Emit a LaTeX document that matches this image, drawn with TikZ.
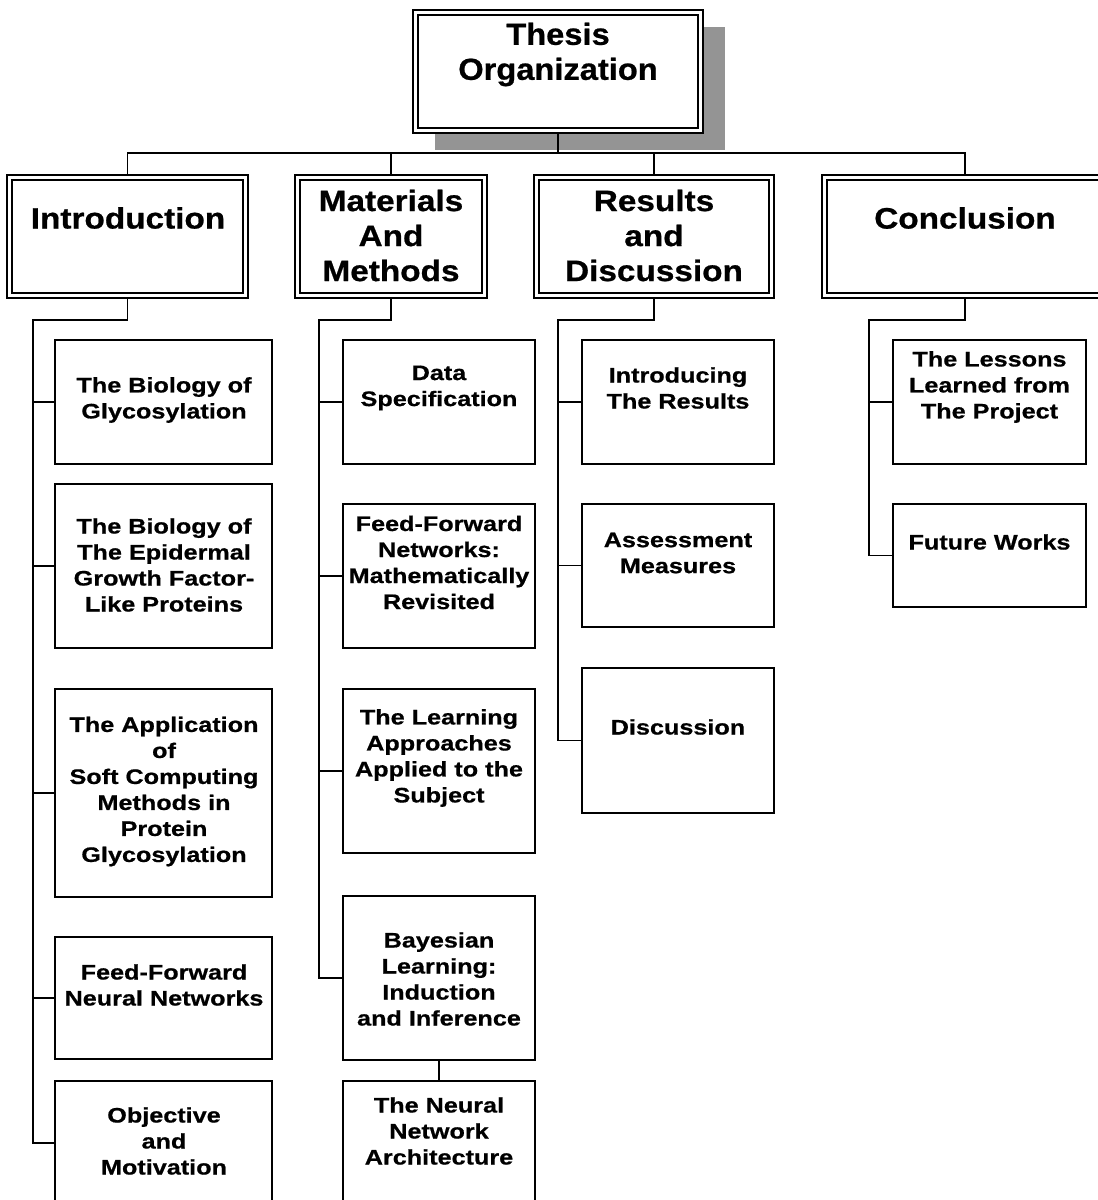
\documentclass[tikz,border=0pt]{standalone}
\usepackage{fontspec}
\setmainfont{Liberation Sans}
% slightly widened, heavy Arial-like faces for the chart labels
\newfontfamily\childfont{Liberation Sans}[FakeStretch=1.2, BoldFeatures={FakeBold=0.7}]
\newfontfamily\headfont{Liberation Sans}[FakeStretch=1.13, BoldFeatures={FakeBold=0.7}]
\newfontfamily\titlefont{Liberation Sans}[FakeStretch=1.07, BoldFeatures={FakeBold=0.7}]

\tikzset{
  subbox/.style={draw=black, fill=white, line width=1.8pt, inner sep=0pt, outer sep=0pt},
  headbox/.style={draw=black, fill=white, line width=2.2pt, inner sep=0pt, outer sep=0pt,
                  minimum height=123pt},
  inner frame/.style={draw=black, line width=1.3pt},
  conn/.style={draw=black, line width=1.4pt},
  ctext/.style={inner sep=0pt, align=center, font=\childfont\bfseries\fontsize{21}{26}\selectfont},
  htext/.style={inner sep=0pt, align=center, font=\headfont\bfseries\fontsize{29.5}{35}\selectfont},
  ttext/.style={inner sep=0pt, align=center, font=\titlefont\bfseries\fontsize{30.5}{35}\selectfont},
  colI/.style={subbox, minimum width=217pt},
  colM/.style={subbox, minimum width=192pt},
  colR/.style={subbox, minimum width=192pt},
  colC/.style={subbox, minimum width=193pt},
}

\begin{document}
\begin{tikzpicture}[x=1pt, y=-1pt]
\useasboundingbox (0,0) rectangle (1098,1200);
\clip (0,0) rectangle (1098,1200);

% ---------- root with drop shadow ----------
\fill[black!42] (435,27) rectangle (725,150);
\node[headbox, minimum width=290pt] (T) at (558,71.5) {};
\draw[inner frame] ([shift={(5,5)}]T.north west) rectangle ([shift={(-5,-5)}]T.south east);
\node[ttext] (Tt) at (558,54.5) {Thesis\\Organization};

% ---------- chapter headers ----------
\node[headbox, minimum width=241pt] (H1) at (127.5,236.5) {};
\node[headbox, minimum width=192pt] (H2) at (391,236.5) {};
\node[headbox, minimum width=240pt] (H3) at (654,236.5) {};
\node[headbox, minimum width=286pt] (H4) at (965,236.5) {};
\foreach \h in {H1,H2,H3,H4}
  \draw[inner frame] ([shift={(5,5)}]\h.north west) rectangle ([shift={(-5,-5)}]\h.south east);

\node[htext] (H1t) at (128,218) {Introduction};
\node[htext] (H2t) at (391,235.5) {Materials\\And\\Methods};
\node[htext] (H3t) at (654,235.5) {Results\\and\\Discussion};
\node[htext] (H4t) at (965,218) {Conclusion};

% ---------- root to chapters ----------
\coordinate (bus) at (0,153);
\draw[conn] (T.south) -- (T.south |- bus);
\draw[conn] (H1.north) -- (H1.north |- bus) -- (H4.north |- bus) -- (H4.north);
\draw[conn] (H2.north) -- (H2.north |- bus);
\draw[conn] (H3.north) -- (H3.north |- bus);

% ---------- Introduction ----------
\node[colI, minimum height=124pt] (b1) at (163.5,402) {};
\node[colI, minimum height=164pt] (b2) at (163.5,566) {};
\node[colI, minimum height=208pt] (b3) at (163.5,793) {};
\node[colI, minimum height=122pt] (b4) at (163.5,998) {};
\node[colI, minimum height=124pt] (b5) at (163.5,1143) {};
\node[ctext] (b1t) at (164,400) {The Biology of\\Glycosylation};
\node[ctext] (b2t) at (164,565) {The Biology of\\The Epidermal\\Growth Factor-\\Like Proteins};
\node[ctext] (b3t) at (164,791.5) {The Application\\of\\Soft Computing\\Methods in\\Protein\\Glycosylation};
\node[ctext] (b4t) at (164,985) {Feed-Forward\\Neural Networks};
\node[ctext] (b5t) at (164,1141) {Objective\\and\\Motivation};

\coordinate (sI) at (33,320);
\draw[conn] (H1.south) |- (sI) -- (sI |- b5.west) -- (b5.west);
\foreach \b in {b1,b2,b3,b4} \draw[conn] (\b.west) -- (\b.west -| sI);

% ---------- Materials and Methods ----------
\node[colM, minimum height=124pt] (m1) at (439,402) {};
\node[colM, minimum height=144pt] (m2) at (439,576) {};
\node[colM, minimum height=164pt] (m3) at (439,771) {};
\node[colM, minimum height=164pt] (m4) at (439,978) {};
\node[colM, minimum height=129pt] (m5) at (439,1145.5) {};
\node[ctext] (m1t) at (439,388) {Data\\Specification};
\node[ctext] (m2t) at (439,562.5) {Feed-Forward\\Networks:\\Mathematically\\Revisited};
\node[ctext] (m3t) at (439,758) {The Learning\\Approaches\\Applied to the\\Subject};
\node[ctext] (m4t) at (439,979) {Bayesian\\Learning:\\Induction\\and Inference};
\node[ctext] (m5t) at (439,1131) {The Neural\\Network\\Architecture};

\coordinate (sM) at (319,320);
\draw[conn] (H2.south) |- (sM) -- (sM |- m4.west) -- (m4.west);
\foreach \b in {m1,m2,m3} \draw[conn] (\b.west) -- (\b.west -| sM);
\draw[conn] (m4.south) -- (m5.north);

% ---------- Results and Discussion ----------
\node[colR, minimum height=124pt] (r1) at (678,402) {};
\node[colR, minimum height=123pt] (r2) at (678,565.5) {};
\node[colR, minimum height=145pt] (r3) at (678,740.5) {};
\node[ctext] (r1t) at (678,388) {Introducing\\The Results};
\node[ctext] (r2t) at (678,553) {Assessment\\Measures};
\node[ctext] (r3t) at (678,727) {Discussion};

\coordinate (sR) at (558,320);
\draw[conn] (H3.south) |- (sR) -- (sR |- r3.west) -- (r3.west);
\foreach \b in {r1,r2} \draw[conn] (\b.west) -- (\b.west -| sR);

% ---------- Conclusion ----------
\node[colC, minimum height=124pt] (c1) at (989.5,402) {};
\node[colC, minimum height=103pt] (c2) at (989.5,555.5) {};
\node[ctext] (c1t) at (989.5,387) {The Lessons\\Learned from\\The Project};
\node[ctext] (c2t) at (989.5,542) {Future Works};

\coordinate (sC) at (869,320);
\draw[conn] (H4.south) |- (sC) -- (sC |- c2.west) -- (c2.west);
\draw[conn] (c1.west) -- (c1.west -| sC);
\end{tikzpicture}
\end{document}
